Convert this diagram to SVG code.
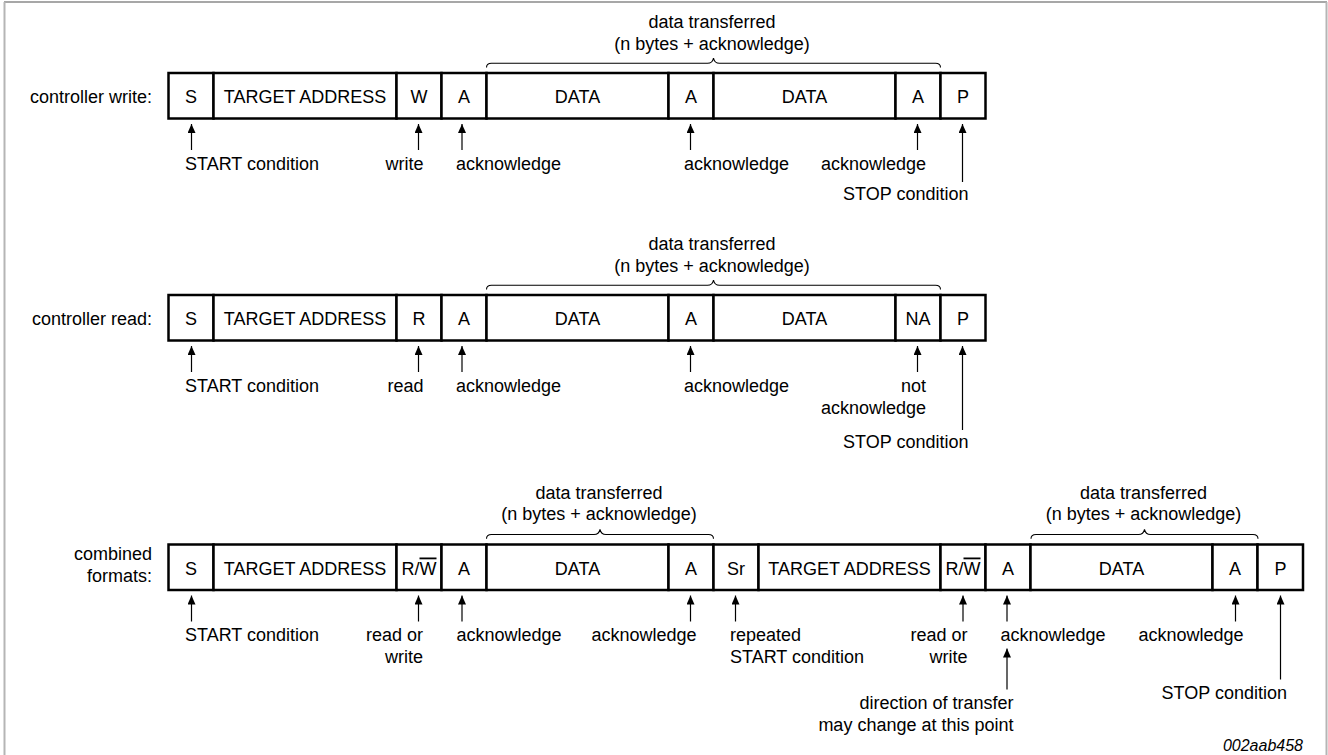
<svg xmlns="http://www.w3.org/2000/svg" width="1328" height="755" viewBox="0 0 1328 755">
<style>
text{font-family:"Liberation Sans",Arial,sans-serif;font-size:18px;fill:#000}
.c{text-anchor:middle}
.e{text-anchor:end}
.cell{fill:#fff;stroke:#000;stroke-width:2.5}
.arr{stroke:#000;stroke-width:1.2;fill:none;marker-end:url(#ah)}
.brace{stroke:#000;stroke-width:1.1;fill:none}
.ov{text-decoration:overline}
</style>
<defs>
<marker id="ah" markerUnits="userSpaceOnUse" viewBox="0 0 9 8" refX="9" refY="4" markerWidth="9" markerHeight="8" orient="auto">
<path d="M0,0 L9,4 L0,8 z" fill="#000"/>
</marker>
</defs>
<rect width="1328" height="755" fill="#fff"/>
<g id="frame">
<line x1="4" y1="2" x2="1327" y2="2" stroke="#8a8a8a" stroke-width="1.5"/>
<line x1="4.5" y1="2" x2="4.5" y2="755" stroke="#b5b5b5" stroke-width="2"/>
<line x1="1326.5" y1="2" x2="1326.5" y2="755" stroke="#b5b5b5" stroke-width="2"/>
</g>

<!-- Row 1: controller write -->
<g id="row1-label"><text class="e" x="152" y="103">controller write:</text></g>
<g id="r1-S"><rect class="cell" x="168.5" y="73" width="45" height="45.5"/><text class="c" x="191" y="103">S</text></g>
<g id="r1-ADDR"><rect class="cell" x="213.5" y="73" width="183" height="45.5"/><text class="c" x="305" y="103">TARGET ADDRESS</text></g>
<g id="r1-W"><rect class="cell" x="396.5" y="73" width="45" height="45.5"/><text class="c" x="419" y="103">W</text></g>
<g id="r1-A1"><rect class="cell" x="441.5" y="73" width="45" height="45.5"/><text class="c" x="464" y="103">A</text></g>
<g id="r1-DATA1"><rect class="cell" x="486.5" y="73" width="182" height="45.5"/><text class="c" x="577.5" y="103">DATA</text></g>
<g id="r1-A2"><rect class="cell" x="668.5" y="73" width="45" height="45.5"/><text class="c" x="691" y="103">A</text></g>
<g id="r1-DATA2"><rect class="cell" x="713.5" y="73" width="182" height="45.5"/><text class="c" x="804.5" y="103">DATA</text></g>
<g id="r1-A3"><rect class="cell" x="895.5" y="73" width="45" height="45.5"/><text class="c" x="918" y="103">A</text></g>
<g id="r1-P"><rect class="cell" x="940.5" y="73" width="45" height="45.5"/><text class="c" x="963" y="103">P</text></g>
<g id="r1-brace-label">
<text class="c" x="712" y="28">data transferred</text>
<text class="c" x="712" y="49.5">(n bytes + acknowledge)</text>
</g>
<g id="r1-labels">
<text x="185" y="170">START condition</text>
<text class="e" x="423.5" y="170">write</text>
<text x="456" y="170">acknowledge</text>
<text x="684" y="170">acknowledge</text>
<text class="e" x="926" y="170">acknowledge</text>
<text class="e" x="968.5" y="200">STOP condition</text>
</g>

<!-- Row 2: controller read -->
<g id="row2-label"><text class="e" x="152" y="325">controller read:</text></g>
<g id="r2-S"><rect class="cell" x="168.5" y="295" width="45" height="45.5"/><text class="c" x="191" y="325">S</text></g>
<g id="r2-ADDR"><rect class="cell" x="213.5" y="295" width="183" height="45.5"/><text class="c" x="305" y="325">TARGET ADDRESS</text></g>
<g id="r2-R"><rect class="cell" x="396.5" y="295" width="45" height="45.5"/><text class="c" x="419" y="325">R</text></g>
<g id="r2-A1"><rect class="cell" x="441.5" y="295" width="45" height="45.5"/><text class="c" x="464" y="325">A</text></g>
<g id="r2-DATA1"><rect class="cell" x="486.5" y="295" width="182" height="45.5"/><text class="c" x="577.5" y="325">DATA</text></g>
<g id="r2-A2"><rect class="cell" x="668.5" y="295" width="45" height="45.5"/><text class="c" x="691" y="325">A</text></g>
<g id="r2-DATA2"><rect class="cell" x="713.5" y="295" width="182" height="45.5"/><text class="c" x="804.5" y="325">DATA</text></g>
<g id="r2-NA"><rect class="cell" x="895.5" y="295" width="45" height="45.5"/><text class="c" x="918" y="325">NA</text></g>
<g id="r2-P"><rect class="cell" x="940.5" y="295" width="45" height="45.5"/><text class="c" x="963" y="325">P</text></g>
<g id="r2-brace-label">
<text class="c" x="712" y="250">data transferred</text>
<text class="c" x="712" y="271.5">(n bytes + acknowledge)</text>
</g>
<g id="r2-labels">
<text x="185" y="392">START condition</text>
<text class="e" x="423.5" y="392">read</text>
<text x="456" y="392">acknowledge</text>
<text x="684" y="392">acknowledge</text>
<text class="e" x="926" y="392">not</text>
<text class="e" x="926" y="414">acknowledge</text>
<text class="e" x="968.5" y="447.5">STOP condition</text>
</g>

<!-- Row 3: combined formats -->
<g id="row3-label">
<text class="e" x="152" y="560">combined</text>
<text class="e" x="152" y="582">formats:</text>
</g>
<g id="r3-S"><rect class="cell" x="168.5" y="544.5" width="45" height="45.5"/><text class="c" x="191" y="574.5">S</text></g>
<g id="r3-ADDR1"><rect class="cell" x="213.5" y="544.5" width="183" height="45.5"/><text class="c" x="305" y="574.5">TARGET ADDRESS</text></g>
<g id="r3-RW1"><rect class="cell" x="396.5" y="544.5" width="45" height="45.5"/><text class="c" x="419" y="574.5">R/<tspan class="ov">W</tspan></text></g>
<g id="r3-A1"><rect class="cell" x="441.5" y="544.5" width="45" height="45.5"/><text class="c" x="464" y="574.5">A</text></g>
<g id="r3-DATA1"><rect class="cell" x="486.5" y="544.5" width="182" height="45.5"/><text class="c" x="577.5" y="574.5">DATA</text></g>
<g id="r3-A2"><rect class="cell" x="668.5" y="544.5" width="45" height="45.5"/><text class="c" x="691" y="574.5">A</text></g>
<g id="r3-Sr"><rect class="cell" x="713.5" y="544.5" width="45" height="45.5"/><text class="c" x="736" y="574.5">Sr</text></g>
<g id="r3-ADDR2"><rect class="cell" x="758.5" y="544.5" width="182" height="45.5"/><text class="c" x="849.5" y="574.5">TARGET ADDRESS</text></g>
<g id="r3-RW2"><rect class="cell" x="940.5" y="544.5" width="45" height="45.5"/><text class="c" x="963" y="574.5">R/<tspan class="ov">W</tspan></text></g>
<g id="r3-A3"><rect class="cell" x="985.5" y="544.5" width="45" height="45.5"/><text class="c" x="1008" y="574.5">A</text></g>
<g id="r3-DATA2"><rect class="cell" x="1030.5" y="544.5" width="182" height="45.5"/><text class="c" x="1121.5" y="574.5">DATA</text></g>
<g id="r3-A4"><rect class="cell" x="1212.5" y="544.5" width="45" height="45.5"/><text class="c" x="1235" y="574.5">A</text></g>
<g id="r3-P"><rect class="cell" x="1257.5" y="544.5" width="45.5" height="45.5"/><text class="c" x="1280.5" y="574.5">P</text></g>
<g id="r3-brace1-label">
<text class="c" x="599" y="498.5">data transferred</text>
<text class="c" x="599" y="520">(n bytes + acknowledge)</text>
</g>
<g id="r3-brace2-label">
<text class="c" x="1143.5" y="498.5">data transferred</text>
<text class="c" x="1143.5" y="520">(n bytes + acknowledge)</text>
</g>
<g id="r3-labels">
<text x="185" y="640.5">START condition</text>
<text class="e" x="423" y="640.5">read or</text>
<text class="e" x="423" y="662.5">write</text>
<text x="456.5" y="640.5">acknowledge</text>
<text class="e" x="696.5" y="640.5">acknowledge</text>
<text x="730" y="640.5">repeated</text>
<text x="730" y="662.5">START condition</text>
<text class="e" x="967.5" y="640.5">read or</text>
<text class="e" x="967.5" y="662.5">write</text>
<text x="1000.5" y="640.5">acknowledge</text>
<text class="e" x="1013.5" y="708.5">direction of transfer</text>
<text class="e" x="1013.5" y="731">may change at this point</text>
<text class="e" x="1243.5" y="640.5">acknowledge</text>
<text class="e" x="1287" y="698.5">STOP condition</text>
</g>
<g id="figure-id"><text class="e" x="1303" y="751" style="font-size:16px;font-style:italic">002aab458</text></g>

<g id="connectors">
<!-- braces -->
<path class="brace" d="M486.5,67.5 Q486.5,63.3 491.5,63.3 L707.5,63.3 Q712.5,63.3 713.5,58 Q714.5,63.3 719.5,63.3 L935.5,63.3 Q940.5,63.3 940.5,67.5"/>
<path class="brace" d="M486.5,289.5 Q486.5,285.3 491.5,285.3 L707.5,285.3 Q712.5,285.3 713.5,280 Q714.5,285.3 719.5,285.3 L935.5,285.3 Q940.5,285.3 940.5,289.5"/>
<path class="brace" d="M486.5,538.8 Q486.5,534.5 491.5,534.5 L594,534.5 Q599,534.5 600,529.3 Q601,534.5 606,534.5 L708.5,534.5 Q713.5,534.5 713.5,538.8"/>
<path class="brace" d="M1031,538.8 Q1031,534.5 1036,534.5 L1138.5,534.5 Q1143.5,534.5 1144.5,529.3 Q1145.5,534.5 1150.5,534.5 L1253,534.5 Q1258,534.5 1258,538.8"/>
<!-- row 1 arrows -->
<line class="arr" x1="191.5" y1="150" x2="191.5" y2="124"/>
<line class="arr" x1="418.5" y1="150" x2="418.5" y2="124"/>
<line class="arr" x1="462" y1="150" x2="462" y2="124"/>
<line class="arr" x1="690.5" y1="150" x2="690.5" y2="124"/>
<line class="arr" x1="917.5" y1="150" x2="917.5" y2="124"/>
<line class="arr" x1="962.5" y1="182" x2="962.5" y2="124"/>
<!-- row 2 arrows -->
<line class="arr" x1="191.5" y1="372" x2="191.5" y2="346"/>
<line class="arr" x1="418.5" y1="372" x2="418.5" y2="346"/>
<line class="arr" x1="462" y1="372" x2="462" y2="346"/>
<line class="arr" x1="690.5" y1="372" x2="690.5" y2="346"/>
<line class="arr" x1="917.5" y1="372" x2="917.5" y2="346"/>
<line class="arr" x1="962.5" y1="430" x2="962.5" y2="346"/>
<!-- row 3 arrows -->
<line class="arr" x1="191.5" y1="621.5" x2="191.5" y2="595.5"/>
<line class="arr" x1="418.5" y1="621.5" x2="418.5" y2="595.5"/>
<line class="arr" x1="462" y1="621.5" x2="462" y2="595.5"/>
<line class="arr" x1="690.5" y1="621.5" x2="690.5" y2="595.5"/>
<line class="arr" x1="735.5" y1="621.5" x2="735.5" y2="595.5"/>
<line class="arr" x1="963" y1="621.5" x2="963" y2="595.5"/>
<line class="arr" x1="1007" y1="621.5" x2="1007" y2="595.5"/>
<line class="arr" x1="1007" y1="689.5" x2="1007" y2="648.5"/>
<line class="arr" x1="1235.5" y1="621.5" x2="1235.5" y2="595.5"/>
<line class="arr" x1="1280.5" y1="679.5" x2="1280.5" y2="595.5"/>
</g>
</svg>
